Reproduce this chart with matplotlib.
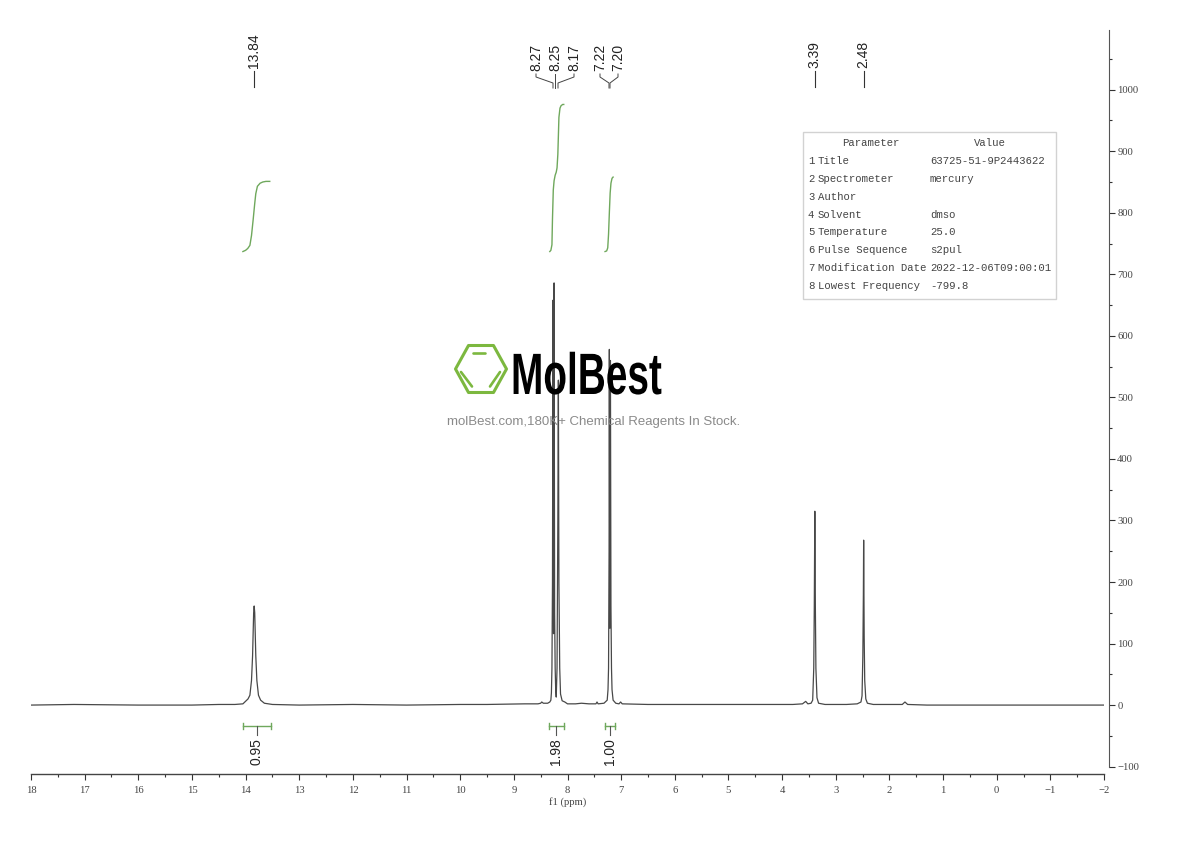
import matplotlib
matplotlib.use("Agg")
import matplotlib.pyplot as plt
import matplotlib.patheffects as pe
from matplotlib.patches import Polygon, Rectangle
from matplotlib.ticker import MultipleLocator
from matplotlib.transforms import Affine2D, blended_transform_factory

# spectrum (baseline plus peaks)
ppm = [18.0, 17.2, 16.0, 15.0, 14.5, 14.2, 14.05, 13.955, 13.92, 13.89, 13.87, 13.85, 13.84, 13.83, 13.81,
       13.79, 13.76, 13.72, 13.65, 13.5, 13.0, 12.0, 11.0, 10.0, 9.5, 8.8, 8.55, 8.5, 8.48, 8.45,
       8.37, 8.33, 8.31, 8.30, 8.29, 8.28, 8.27, 8.265, 8.26, 8.255, 8.25, 8.24, 8.23, 8.22, 8.21,
       8.195, 8.18, 8.17, 8.16, 8.145, 8.13, 8.10, 8.05, 8.0, 7.85, 7.74, 7.6, 7.47, 7.45, 7.43,
       7.32, 7.26, 7.245, 7.235, 7.225, 7.22, 7.215, 7.21, 7.205, 7.20, 7.19, 7.18, 7.17, 7.15, 7.10,
       7.04, 7.01, 6.98, 6.5, 5.5, 4.5, 3.8, 3.62, 3.56, 3.52, 3.46, 3.43, 3.41, 3.40, 3.39,
       3.38, 3.37, 3.35, 3.32, 3.2, 2.8, 2.6, 2.53, 2.51, 2.495, 2.485, 2.48, 2.47, 2.46, 2.44,
       2.41, 2.3, 2.0, 1.76, 1.71, 1.66, 1.3, 1.0, 0.0, -1.0, -2.0]
intensity = [0, 1, 0, 0, 1, 1, 2, 10, 16, 40, 80, 150, 161, 150, 80,
             40, 16, 8, 3, 1, 0, 1, 0, 1, 1, 2, 2, 3, 5, 3,
             3, 5, 8, 20, 60, 200, 658, 400, 116, 400, 686, 150, 60, 25, 13,
             60, 300, 528, 200, 60, 18, 7, 5, 2, 2, 3, 2, 2, 5, 2,
             3, 8, 25, 60, 250, 578, 300, 125, 320, 560, 160, 60, 25, 8, 3,
             2, 5, 2, 1, 1, 1, 1, 2, 6, 2, 3, 8, 60, 160, 315,
             160, 60, 12, 3, 1, 1, 2, 5, 15, 80, 180, 268, 110, 40, 10,
             3, 1, 1, 1, 5, 1, 0, 0, 0, 0, 0]

# integral curves
int1_ppm = [14.05, 14.0, 13.96, 13.92, 13.89, 13.86, 13.83, 13.81, 13.78, 13.73, 13.68, 13.62, 13.55]
int1_val = [737, 739, 742, 747, 763, 788, 815, 831, 843, 848, 850, 851, 851]
int2_ppm = [8.33, 8.31, 8.29, 8.28, 8.265, 8.25, 8.23, 8.21, 8.195, 8.18, 8.17, 8.16, 8.14, 8.12, 8.09, 8.07]
int2_val = [737, 739, 748, 790, 837, 852, 861, 866, 873, 895, 925, 955, 970, 974, 976, 976]
int3_ppm = [7.30, 7.27, 7.25, 7.235, 7.22, 7.205, 7.19, 7.17, 7.15]
int3_val = [737, 738, 743, 765, 800, 832, 848, 856, 858]

# integration brackets
range_left = [14.05, 8.35, 7.30]
range_right = [13.53, 8.07, 7.12]
range_labels = ["0.95", "1.98", "1.00"]

# peak labels
single_peaks = [13.84, 3.39, 2.48]
group_labels = ["8.27", "8.25", "8.17", "7.22", "7.20"]

# parameter table
param_nums = ["1", "2", "3", "4", "5", "6", "7", "8"]
param_names = ["Title", "Spectrometer", "Author", "Solvent", "Temperature",
               "Pulse Sequence", "Modification Date", "Lowest Frequency"]
param_values = ["63725-51-9P2443622", "mercury", "", "dmso", "25.0", "s2pul",
                "2022-12-06T09:00:01", "-799.8"]

GREEN = "#6fa85c"
LOGO_GREEN = "#7cb83f"
W, H = 1190, 841


class Squeeze(pe.AbstractPathEffect):
    # narrows the glyphs about a fixed x, no condensed font is installed
    def __init__(self, x0, sx):
        super().__init__()
        self.x0, self.sx = x0, sx

    def draw_path(self, renderer, gc, tpath, affine, rgbFace=None):
        a = affine + Affine2D().translate(-self.x0, 0).scale(self.sx, 1).translate(self.x0, 0)
        renderer.draw_path(gc, tpath, a, rgbFace)


fig = plt.figure(figsize=(W / 100, H / 100), dpi=100)
ax = fig.add_axes([31 / W, (H - 774) / H, 1073 / W, 744 / H])
ax.set_xlim(18, -2)
ax.set_ylim(-112, 1097)
ax.patch.set_alpha(0)

# image-pixel coordinates for decorations
px = Affine2D().scale(1, -1).translate(0, H)
xpx = blended_transform_factory(ax.transData, px)

ax.plot(ppm, intensity, color="#484848", lw=0.9, solid_joinstyle="round", zorder=3)
for xs, ys in [(int1_ppm, int1_val), (int2_ppm, int2_val), (int3_ppm, int3_val)]:
    ax.plot(xs, ys, color=GREEN, lw=1.0, solid_joinstyle="round", zorder=3)

for s in ["top", "left"]:
    ax.spines[s].set_visible(False)
ax.spines["right"].set_position(("outward", 3.6))
ax.spines["right"].set_bounds(-100, 1097)
ax.spines["right"].set_color("#555555")
ax.spines["bottom"].set_color("#444444")
ax.spines["bottom"].set_linewidth(1.0)

ax.yaxis.tick_right()
ax.xaxis.set_major_locator(MultipleLocator(1))
ax.xaxis.set_minor_locator(MultipleLocator(0.5))
ax.yaxis.set_minor_locator(MultipleLocator(50))
ax.set_yticks(list(range(-100, 1001, 100)))
ax.tick_params(which="major", length=4.3, width=0.8, color="#333333", labelcolor="#444444",
               labelsize=7.7, pad=1.6, labelfontfamily="Liberation Serif")
ax.tick_params(which="minor", length=2.2, width=0.8, color="#333333")
ax.tick_params(axis="x", which="major", pad=4)
ax.set_xlabel("f1 (ppm)", fontfamily="Liberation Serif", fontsize=7.7, color="#444444", labelpad=1.5)

# peak labels
for p in single_peaks:
    ax.plot([p, p], [71, 87], transform=xpx, color="#333333", lw=0.8, clip_on=False)
    ax.text(p, 68, f"{p:.2f}", transform=xpx, rotation=90, ha="center", va="bottom",
            fontfamily="Liberation Sans", fontsize=10, color="#222222")

label_x = [536, 555, 574, 600, 618]
end_x = [553, 555, 558, 609, 610]
for lab, lx, ex in zip(group_labels, label_x, end_x):
    ax.plot([lx, lx, ex, ex], [74, 77, 83, 88], transform=px, color="#444444", lw=0.7, clip_on=False)
    ax.text(lx, 71, lab, transform=px, rotation=90, ha="center", va="bottom",
            fontfamily="Liberation Sans", fontsize=10, color="#222222")

# integration brackets
for left, right, lab in zip(range_left, range_right, range_labels):
    mid = (left + right) / 2
    ax.plot([left, right], [725.5, 725.5], transform=xpx, color=GREEN, lw=1.0, clip_on=False)
    for e in (left, right):
        ax.plot([e, e], [722.5, 729], transform=xpx, color=GREEN, lw=1.0, clip_on=False)
    ax.plot([mid, mid], [725.5, 735], transform=xpx, color="#555555", lw=0.8, clip_on=False)
    ax.text(mid, 751.5, lab, transform=xpx, rotation=90, ha="center", va="center",
            fontfamily="Liberation Sans", fontsize=10, color="#222222")

# parameter table
ax.add_patch(Rectangle((803, 132), 253, 167, transform=px, fill=False, ec="#d2d2d2", lw=1.0,
                       clip_on=False, zorder=4))
TABLE_FONT = dict(fontfamily="Liberation Mono", fontsize=7.65, color="#444444", va="center", transform=px)
ax.text(871, 143, "Parameter", ha="center", **TABLE_FONT)
ax.text(990, 143, "Value", ha="center", **TABLE_FONT)
for i, (k, n, v) in enumerate(zip(param_nums, param_names, param_values)):
    y = 161 + i * 17.85
    ax.text(808, y, k, ha="left", **TABLE_FONT)
    ax.text(818, y, n, ha="left", **TABLE_FONT)
    ax.text(930, y, v, ha="left", **TABLE_FONT)

# watermark logo
ax.add_patch(Polygon([(455.5, 369), (468.5, 345.5), (493.5, 345.5), (506.5, 369), (493.5, 392.5), (468.5, 392.5)],
                     closed=True, transform=px, fill=False, ec=LOGO_GREEN, lw=2.2, joinstyle="round",
                     clip_on=False, zorder=5))
for seg in [((473, 352.5), (485, 352.5)), ((461, 372), (472, 386.5)), ((490, 386.5), (500, 372))]:
    ax.plot(*zip(*seg), transform=px, color=LOGO_GREEN, lw=1.9, solid_capstyle="round", clip_on=False, zorder=5)
ax.text(511, 394, "MolBest", transform=px, ha="left", va="baseline", fontfamily="Liberation Sans",
        fontweight="bold", fontsize=42, color="black", zorder=5, path_effects=[Squeeze(511, 0.665)])
ax.text(594, 422, "molBest.com,180K+ Chemical Reagents In Stock.", transform=px, ha="center", va="center",
        fontfamily="Liberation Sans", fontsize=9.5, color="#8a8a8a", zorder=5)

fig.savefig("out.png", dpi=100)
